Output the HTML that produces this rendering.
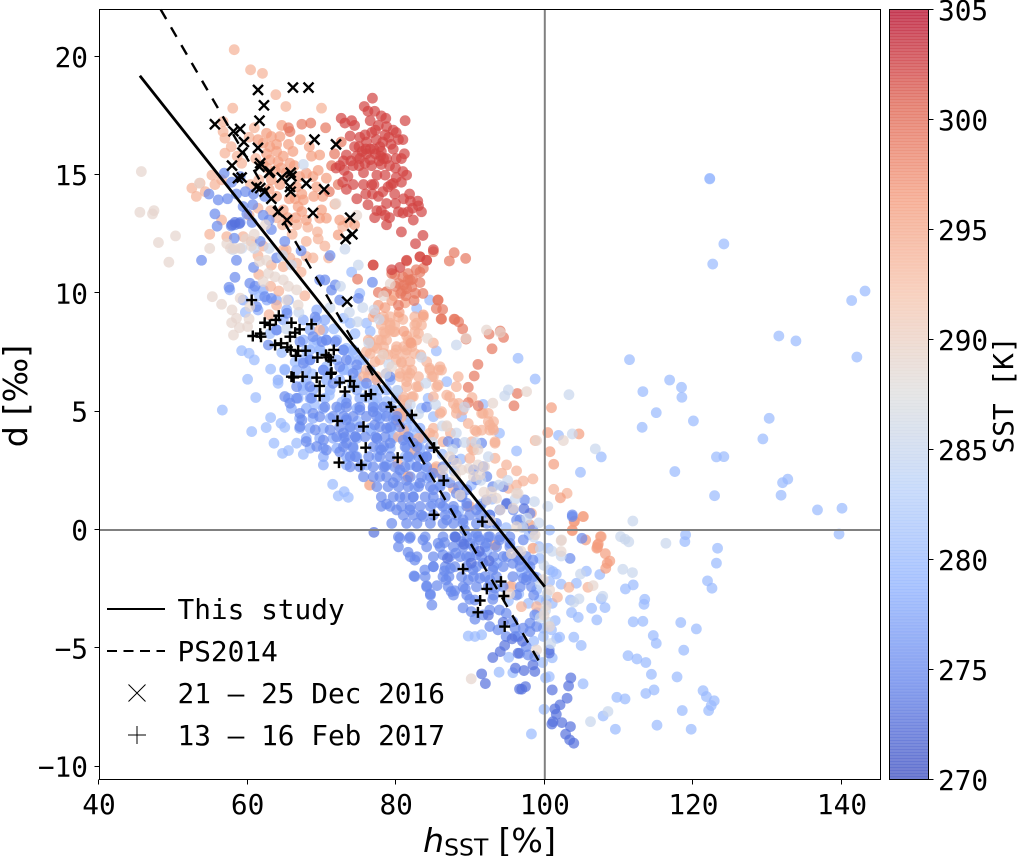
<!DOCTYPE html>
<html>
<head>
<meta charset="utf-8">
<title>SST scatter</title>
<style>
html,body{margin:0;padding:0;background:#fff;}
svg{display:block;}
text{font-family:"DejaVu Sans Mono","Liberation Mono",monospace;fill:#000;}
</style>
</head>
<body>
<svg id="chart" width="1018" height="856" viewBox="0 0 1018 856" xmlns="http://www.w3.org/2000/svg"></svg>
<script>
/* chart values: flat h,d pairs per SST class */
const xTickLabels = [40, 60, 80, 100, 120, 140];
const yTickLabels = [-10, -5, 0, 5, 10, 15, 20];
const cbarTickLabels = [270, 275, 280, 285, 290, 295, 300, 305];
const thisStudyH = [45.5, 100];
const thisStudyD = [19.2, -2.4];
const ps2014H = [48.3, 99.5];
const ps2014D = [22, -5.7];

const sst280 = [122.2,14.86,122.2,14.84,124.1,12.09,122.6,11.24,141.3,9.7,143.1,10.1,131.5,8.2,133.8,7.99,142,7.31,111.4,7.2,116.8,6.34,113.2,5.85,118.4,6.03,118.45,5.61,115,4.96,120,4.61,113.1,4.34,130.2,4.72,129.35,3.85,123.1,3.09,124.1,3.1,117.5,2.47,132.7,2.15,132,2,122.85,1.45,131.8,1.47,136.7,.85,140,.92,139.6,-.17,118.95,-.2,118.85,-.49,123.25,-.77,123.1,-1.4,121.9,-2.15,122.5,-2.46,111.9,-2.32,110.85,-2.49,107.4,-1.88,105.6,-1.74,104.25,-2.25,102.2,-2.29,107.6,-2.91,113.45,-2.93,113.35,-3.14,108.1,-3.28,106.3,-3.31,103.6,-3.49,104.5,-3.69,107,-3.8,111.9,-3.88,113.2,-3.86,118.3,-3.91,120.4,-4.18,114.6,-4.46,115,-4.79,103.9,-4.53,104.9,-4.88,118.7,-5.08,111.2,-5.31,112.4,-5.45,113.6,-5.6,114.35,-6.1,117.8,-6.21,105.15,-6.5,114.7,-6.76,113.6,-6.91,109.7,-7.07,110.8,-7.14,121.3,-6.79,121.75,-7.04,122.8,-7.22,122.4,-7.42,122.05,-7.63,118.5,-7.63,107.85,-7.86,109.5,-8.42,115.1,-8.25,119.7,-8.42,99.9,-7.58,98.2,-8.62,100.1,-6.25,93.85,-6.01,95.7,-6.03,104.8,2.44,107.6,3.09,101.85,4,89.7,-4.48,90.6,-4.5,91.5,-4.43,95.15,-5.38,101.1,-1.76,101.55,-1.86,100.65,-1.69,100.65,-2.18,100.2,-2.96,101,-3.1,99.3,-2.96,98.9,-2.53,99.3,-1.2,101.4,-3.83,99.8,-4.15,100.9,-4.22,102,-4.53,101.6,-4.58,99.8,-4.5,100.45,-.77,100.65,0,103.45,-2.96,96.4,7.26,98.7,6.38,91.7,5.31,88.8,4.79,93.9,4.09,96.2,3.34,85.4,7.57,84.5,9.72,82.75,9.37,86.8,6.27,84.3,5.57,83.4,5.15,85,4.79,56.6,5.07,60.55,4.16,60,6.37,61.1,5.6,59.2,7.58,60.2,7.47,60.9,7.19,63.1,6.8,64.1,6.2,65,6.8,62.5,4.33,63.1,4.75,64.5,4.51,65,4.34,63.55,3.67,64.7,3.24,65.5,3.36,67.5,3.2,66.6,3.67,71.45,1.93,72.2,1.44,73,1.62,73.55,1.38,73.8,8.74,74.45,8.3,75.1,10,74,10.9,72.9,8.95,75.6,7.19,74.2,7.47,73.3,7.68,73.55,6.76,75.6,6.13,77.8,5.92,76.9,5.43,78.7,5.43,80.5,5.07,81.4,4.72,82.3,4.37,78.5,4.93,79.6,3.95,82.75,4.09,76,8.74,76.5,8.4,80.2,5.9,69,5.3,71,5.7,72.7,5.4,74.8,4.6,67.4,6.1,68.7,6.6,69.8,7.6,71.6,8.5,70.6,6.9,72.9,6.8,76.6,4.2,77.9,4.8,79.9,4.6,83.2,3.4,83.9,2.6,86.2,3.2,87.8,2.5,88.7,3,90.1,1.9,91.5,1.1,93.2,.2,94.8,.1,96.4,-.9,97.9,-.2,99.2,-.7,98.9,-2,97.8,-3.1,96.5,-2.7,95.1,-3,93.6,-1.4,92.2,-.9,90.3,-.3,88.4,.8,85.9,1.9,84.2,2.2,81.2,3.1,59.7,9.2,61.6,9.9,63,8.3,64.6,7.5,66.4,7.1,67.9,7.6,68.9,7.9,79.3,4.3,80.8,3.9,82.1,3.2,77.4,5.2,75.9,5.6,74.1,6.1,80.9,2.4,82.5,1.8,84.9,1.1,86.7,.9,88.9,1.4,92.9,1.3,96.9,-1.8,97.7,-1.6,99,-3.5,98.5,-4.7,99.7,-5.6,100.6,-6.2,101,-5.4];

const sst278 = [57.6,10.15,60.8,10.15,62.1,10.15,59.4,9.72,62.6,9.72,63.9,9.72,65.5,9.72,61.4,9.3,65.25,9.3,69.3,9.3,64.8,8.88,67.5,8.88,69.3,8.88,70.4,8.88,63.9,8.46,68.4,8.46,70.2,8.46,67.5,8.03,69.3,8.03,70.6,8.03,72,8.03,68.4,7.61,69.7,7.61,72.9,7.61,74.2,7.61,67.5,7.19,68.4,7.19,72,7.19,73.8,7.19,75.1,7.19,65,6.76,66.6,6.76,67.9,6.76,70.2,6.76,72.9,6.76,74.7,6.76,76.5,6.76,64.1,6.34,67.9,6.34,70.6,6.34,72.4,6.34,74.7,6.34,77.4,6.34,79.2,6.34,67.5,5.92,68.8,5.92,71.1,5.92,74.7,5.92,76.9,5.92,78.7,5.92,65.5,5.57,66.8,5.57,68.4,5.57,70.4,5.57,73.3,5.57,75.1,5.57,77.4,5.57,80,5.57,65.9,5.14,67.9,5.14,70.2,5.14,72.4,5.14,74.7,5.14,76.9,5.14,79.4,5.14,81.4,5.14,67,4.72,68.8,4.72,71.1,4.72,73.3,4.72,77.8,4.72,79.6,4.72,81.85,4.72,67,4.3,68.4,4.3,70.2,4.3,73.8,4.3,76.5,4.3,79.2,4.3,81.4,4.3,83.2,4.3,67.9,3.88,69.7,3.88,71.5,3.88,72.9,3.88,74.7,3.88,77.4,3.88,79.6,3.88,81.85,3.88,83.6,3.88,68.4,3.46,70.2,3.46,72,3.46,74.2,3.46,77.8,3.46,79.2,3.46,81.4,3.46,83.2,3.46,70.2,3.1,73.3,3.1,74.7,3.1,77.4,3.1,81.85,3.1,83.6,3.1,70.2,2.75,73.3,2.75,76,2.75,78.7,2.75,81.85,2.75];

const sst275 = [54.8,14.2,56.05,13.95,57.3,14,58.5,14.2,59.7,14.3,60.8,14.2,62.3,14.1,60.7,13.75,59.4,13.67,55.6,13.36,59.9,13.36,62.1,13.3,62.9,13.1,55.9,12.84,57.8,12.85,58.3,12.9,59,13,60.6,13,63.2,12.7,58.2,12.33,61.7,12.2,65,12.2,67.2,11.8,71.1,11.6,53.8,11.4,58.5,11.4,63.9,11.5,60.8,11.1,56.85,15.08,57.85,14.7,59,14.94,57.5,10.26,58.3,10.68,60.3,10.43,61,10.3,62.3,9.86,63.2,9.79,61.2,9.44,69.1,9,65.3,9.16,63.9,8.45,62.8,7.82,69.7,10.57,70.4,10.57,71.8,10.36,71.3,10.14,76.8,10.47,72.4,9.72,74.9,9.79,70.6,8.03,71.8,7.96,70,7.96,72.9,7.61,74.7,6.98,73.3,7.19,68.8,8.17,67.05,7.96,68.4,7.19,67.5,7.05,70.2,6.76,72.4,6.9,74.2,6.62,76,6.2,71.5,6.2,68.4,6.06,66.6,6.06,65,5.64,66.6,5.57,65.7,5.36,68.6,5.57,70.4,5.2,73.3,5.36,76.9,5,75.1,5.07,68.8,4.93,67.05,4.93,67.3,4.65,69.7,4.79,73.3,4.65,77.1,4.44,78.7,4.3,80,4.65,67.05,4.37,69.1,4.23,71.1,4.23,70.2,3.8,72.9,4.1,74.5,3.95,67.9,3.74,69.3,3.53,70.6,3.38,73.3,3.67,74.5,3.1,72.4,3.3,77.4,3.87,78,3.38,79.2,3.67,80.95,3.8,78.5,2.68,80.5,2.54,77.8,2.26,79.6,2,81.4,2.1,82.75,2.68,82.3,3.67,84.1,3.1,83.2,1.98,85,1.7,82.3,1.4,80.5,1.4,78.7,1.1,80.05,.85,81.85,.85,83.65,.57,85.9,1.13,87.7,.85,86.8,.43,89.5,1.13,89,.43,90.8,.85,92.6,.64,85,2.4,88.1,1.55,87.2,2,89.5,1.7,80.5,-.35,81.8,-.35,81.6,-.94,82.5,-1.27,83.85,-1.69,82.4,-1.94,84.1,-2.36,85.5,-2.35,84.6,-2.7,84.8,-3.17,87.4,-2.6,87.9,-2.57,89.3,-2.49,86.7,-2.11,87.1,-1.97,86.5,-1.73,87.3,-1.62,85,-1.55,83.6,-.42,85.65,-.56,86.5,-.53,86.3,-1.05,88,-.98,88.8,-.49,89.9,-.56,91.25,-.42,92.15,-.56,87.9,-.28,89.2,0,90.8,-.14,92.6,-.28,89.45,-1.12,90.8,-1.05,91.7,-1.41,90.35,-1.69,93,-1.69,91.25,-2.04,89.7,-2.11,92.6,-2.11,93.3,-2.46,89.9,-2.93,90.6,-2.96,93,-2.93,89,-3.29,90.1,-3.45,90.6,-3.77,91.7,-3.59,92.6,-3.38,93.9,-3.38,94.8,-3.52,92.6,-4.08,93.7,-4.22,95.7,-3.87,96,-4.15,94.8,-4.5,96,-4.5,96.4,-4.5,97.1,-4.15,98,-3.94,98,-4.29,98.9,-4.08,97.5,-4.93,96.6,-5.21,97.75,-5.28,98.65,-5.35,100.6,-5.07,98.65,-3.59,97.5,-2.11,97.1,-2.04,95.7,-1.97,94.4,-1.12,95.7,-1.41,96.6,-1.27,97.5,-1.12,98.4,-1.27,93.9,-.42,95.3,-.56,97.1,-.42,98.4,0,97.1,.14,96.2,.42,103.4,-1.2,103.7,.64,103.7,.57,105,-.35,88.1,3.67,87,3.74,84.1,5.2,90.4,2.54,91.7,2.68,92.2,2.26,90.8,2.12,93,1.83,94.4,1.83,97.3,1.27,94.85,1.13,95.75,.85,98,.7,93.95,.85,92.15,1.27,96.65,.43,87.7,2.96,91.5,3.67,79.15,6.48,
72,5.2,73.3,5.2,75.1,5.2,76.9,5.2,78.3,5.2,71.5,4.8,72.9,4.8,74.2,4.8,76,4.8,77.4,4.8,78.7,4.8,80.1,4.8,72.4,4.36,73.8,4.36,75.1,4.36,77.8,4.36,79.2,4.36,80.5,4.36,72,3.94,73.1,3.94,74.5,3.94,75.8,3.94,77.2,3.94,78.5,3.94,81.6,3.94,72.9,3.52,74.2,3.52,76.9,3.52,78.3,3.52,81.2,3.52,82.8,3.52,84.6,3.52,73.8,3.1,76.3,3.1,77.8,3.1,79.2,3.1,81.6,3.1,83,3.1,84.1,3.1,73.8,2.67,75.1,2.67,76.9,2.67,78.3,2.67,79.8,2.67,81.2,2.67,82.8,2.67,84.1,2.67,86.3,2.67,75.6,2.25,76.9,2.25,78.7,2.25,80.1,2.25,81.9,2.25,83.4,2.25,84.6,2.25,86.3,2.25,77.4,1.83,78.9,1.83,80.3,1.83,81.6,1.83,83,1.83,84.6,1.83,85.9,1.83,88.4,1.83,78,1.4,79.6,1.4,81.2,1.4,82.3,1.4,83.9,1.4,85,1.4,86.6,1.4,88.8,1.4,78,1,79.2,1,80.7,1,81.9,1,83.2,1,84.6,1,86.3,1,87.7,1,89.5,1,91.3,1,80.95,.63,82.3,.63,83.4,.63,85,.63,86.6,.63,88.1,.63,89.9,.63,91.3,.63,92.6,.63,79.4,.28,81.4,.28,82.8,.28,84.6,.28,86.3,.28,87.7,.28,89,.28,90.8,.28,92.2,.28,93.5,.28,80.3,-.29,81.9,-.29,83.9,-.29,86.3,-.29,87.9,-.29,89.5,-.29,91,-.29,92.4,-.29,94,-.29,95.3,-.29,80.3,-.71,84.1,-.71,85.9,-.71,87.7,-.71,89,-.71,90.4,-.71,92,-.71,93.5,-.71,95.3,-.71,81.9,-1.13,82.8,-1.13,85,-1.13,87.2,-1.13,88.6,-1.13,89.9,-1.13,91.5,-1.13,93.1,-1.13,94.9,-1.13,96.2,-1.13,85,-1.55,86.6,-1.55,87.9,-1.55,89.5,-1.55,90.8,-1.55,93.1,-1.55,94.4,-1.55,96.7,-1.55,98,-1.55,82.5,-1.97,83.9,-1.97,86.3,-1.97,88.8,-1.97,90.4,-1.97,91.95,-1.97,93.5,-1.97,97.6,-1.97,98.5,-1.97,84.1,-2.4,87,-2.4,89,-2.4,90.8,-2.4,92.4,-2.4,94.4,-2.4,96.7,-2.4,98.2,-2.4,84.6,-2.75,87.7,-2.75,89.5,-2.75,93.1,-2.75,96.2,-2.75,98.5,-2.75];

const sst273 = [103.5,-6.25,103.2,-6.59,101,-6.76,103,-7.11,102.05,-7.39,101.35,-7.56,101.55,-7.79,101.1,-8.1,100.95,-8.2,102.3,-8.14,103.45,-8.31,102.8,-8.63,103.35,-8.87,103.9,-9.01,96.9,-6.73,97.4,-6.62,96.6,-6.72,92,-6.49,91.5,-6.08,97.2,-5.94,93,-5.39,94,-5.14,94.6,-4.88,96.4,-5.21,96.05,-5.84,98.65,-5.98,98.4,-5.7,100.6,-5.2,89.1,-.6,90.1,-1.4,91.2,-.9,92.5,-1.3,88,-.3,86.9,-1.2,95.6,-4.6,97,-4.7,94.4,-3.9,92.4,-3.6,58.3,13,58.9,12.95,57.9,12.9,77,-.1,94.9,1.1,97.2,.9];

const sst285 = [116.3,-.56,110.2,-.28,110.8,-.39,111.3,-.5,111.85,.38,106.8,3.43,103.25,5.72,103.7,4.06,111.8,-1.8,110.5,-1.66,104.8,-1.86,107.8,-2.8,104.6,-2.91,103.9,-3.05,108.5,-7.67,106.15,-8.1,94.6,5.67,95.1,5.92,88.1,7.82,67.5,15.45,73.1,11.87,74.9,11.2,62.9,11.9,64.7,11.6,65.9,11.2,60.9,11.9,59.2,11.9,58,11.85,102.2,-1.1,101,-.9,99.9,-1.5,99.4,-2.3,100.5,-3.9,100.8,-4.8,99.4,-3.7,98.5,-.3,97.6,.5,96,1.3,95,2.1,93.8,1.9,92.4,3.1,91.4,2.1,89.2,3.7,79,7,76.3,7.9,78.6,6.6,80.1,5.9,81.9,5.3,83,4.9,84.9,3.7,86.2,4.4,88.1,4.1,89.2,5.2,77,9.3,74.8,8.8,77.7,8.9,72.5,10.3,71.1,9.4,66.9,9.2,65.2,8.5,75.5,9.4,73.7,9.2,83.4,7.3,84,6.2,85.3,5.3,87.6,3.4,90.7,3.7,97,.1,98.6,1.2,99.2,.3,100.4,1,99.4,-.8,100.3,-2.7,100.1,-3.4];

const sst289 = [45.7,15.15,45.5,13.43,47.2,13.36,47.4,13.5,48,12.15,50.3,12.43,49.4,11.32,53.5,14.66,57.2,12.1,59,11.9,60.5,12,61.6,11.35,62.55,11.4,55.25,9.86,56.5,9.54,57.9,9.3,58.5,8.95,57.85,8.76,60.2,8.92,58.9,8.55,60,8.6,58.1,8.24,59,9.8,60.3,9.44,62.1,10.5,63.7,10.7,62.8,10.85,64.8,10.57,65.5,10.3,65.25,9.72,66.8,9.51,66.6,10.15,102.5,3.78,90.1,-6.29,102.2,-.45,102.2,-.91,106.5,-2.35,100.65,-2.53,100.65,-4.08,98.9,-5.07,93,5.36,97.55,5.85,92.15,8.45,94,8.35,86.8,4.41,96.2,1.55,88,2.3,91,3.4,91.8,1.6,95.5,-1,96.8,-.9,99.8,-2.1,100.2,-3.2,99.9,-3.6,95.3,-2.7,92.7,.4,89.8,2.6,89.4,8.1,84.2,8.1,79.2,10.4,78.3,9.9,62.4,12.9,71.9,13.8,74.7,13.3,57.7,11.9,54.9,11.9,87.2,3.1,88.1,2.82,88.8,2.54,90.4,2.26,91.3,2.33,91.9,2.68,92.8,1.62,92.2,1.27,93.5,1.34,95.75,.92,96.4,1.55,94,.85,86.8,4.37,86.3,2.54,88.6,1.48,91,2.75,98.7,-.2,102.25,-.42,96.2,.14,98.9,3.78,60.9,12.5,59.8,12.3,58.3,11.9,79.4,6.9,78.2,7.4];

const sst294 = [58.2,20.3,60.4,19.45,62,19.3,63.8,18.4,65.15,17.9,58,17.83,69.95,17.83,56.7,17.26,56.7,16.84,56.95,16.56,56.95,15.93,59.2,15.5,52.5,14.45,53.1,14.1,53.6,14.66,55.6,14.6,56.5,14.8,56.5,13.1,54.9,12.5,57.2,12.4,59.4,12.4,60.5,12.2,62.1,12,65.2,11.84,67.9,12.2,69.5,12.3,70.4,12,67.9,11.56,64.8,11.84,66.6,11.28,68.8,11.5,64.8,11.13,71.75,13.77,72.8,12.83,73.5,13,63.9,9.5,62.9,9.1,67.2,10.9,69.7,8.45,79.15,8.74,78.3,8.88,79.15,8.45,78.5,8.31,79.8,8.38,76.5,7.96,78,8.03,81.85,7.96,83,8.31,82.75,8.74,81.4,7.61,80,7.61,76,7.54,77.4,7.68,77.8,7.19,80.7,7.05,78.7,6.62,80.5,6.62,81.85,6.62,81.4,6.27,84.5,6.84,85.9,6.9,84.8,6.48,85.65,6.13,88.35,6.48,83,6.06,82.3,5.64,80.95,5.5,76.25,6.48,77.4,6.34,86.1,5,88.1,5.15,89,5.07,91.5,4.93,92.6,4.44,90.8,4.16,93,4.3,90.15,3.46,89.9,3.03,93.3,3.67,93.3,3.03,94.2,2.4,96.2,2.5,94.85,2.75,98.7,3.78,85,4.3,84.5,4.09,85.4,2.68,85,2.54,85.9,2.4,95.1,1.76,96.2,1.9,97.1,2.07,98.4,2.16,81.6,2.26,76.5,1.9,80.2,2.8,101.2,1.72,103,1.55,105.2,.57,107.6,-.28,89.7,.99,98,.21,93.3,-.63,98.4,-.77,95.5,-2.36,96.85,-3.24,98.9,-3.24,101.7,-2.84,103.25,-2.42,105.8,-2.42,98.2,.71,80.9,8.9,81.4,8.2,83.3,7.4,85,7.9,78.9,7.4,80,7.2,86.8,5.7,90.2,5.6,89.7,4.5,87.3,4.1,
76.9,9.01,78.3,9.01,79.2,9.01,80.3,9.01,82.5,9.01,83.65,9.01,78,8.66,79.2,8.66,79.8,8.66,82.5,8.66,83.4,8.66,78.3,8.38,79.6,8.38,82.5,8.38,76.25,8.03,77.6,8.03,78.7,8.03,81.6,8.03,82.75,8.03,76.9,7.75,78.3,7.75,80.05,7.75,81,7.75,82.1,7.75,76.5,7.46,78.3,7.46,79.8,7.46,81.2,7.46,82.5,7.46,77.15,7.11,80.7,7.11,81.85,7.11,84.1,7.11,76,6.76,81.4,6.76,82.1,6.76,84.55,6.76,85.7,6.76,86.1,6.76,75.6,6.48,77.4,6.48,80.5,6.48,81.6,6.48,83,6.48,85,6.48,81.4,6.06,82.75,6.06,85.45,6.06,88.1,6.06,81,5.63,82.1,5.63,85,5.63,87.2,5.63,81.4,5.35,87.7,5.35,88.4,5.35,80.5,4.93,85.9,4.93,88.1,4.93,91.7,4.93,92.4,4.93,80.3,4.58,92.4,4.58,93.1,4.58,81,4.22,90.6,4.22,91.5,4.22,92.6,4.22,93.1,4.22,86.3,3.73,90.15,3.73,93.3,3.73,90.4,3.38,80.3,3.94,83,3.87,82.5,3.38,81.6,2.25,76.4,1.9,85.2,2.6,87.7,1.76,89.9,1,80.3,4.93,80.7,4.79,93.3,-.64,98.45,-.78,95.3,-2.4,98,.21,85,4,
54.3,14.3,55.2,15,57.8,16.2,58.6,15.8,60.2,16.6,60.9,17,61.1,15.7,60.4,14.6,61.5,14.8,62.6,15.3,60.2,13.3,61.4,13.6,63.1,13.5,63.9,13.2,64.7,12.9,65.4,13,66,12.5,66.6,12.9,68.1,12.8,69.4,12.6,70.9,11.5,65.7,11.5,63.2,11.2,61.4,11.6,63.1,10.3,61.5,10.8,64.2,10.1,67.7,9.9];

const sst296 = [100.9,5.17,100.4,4.12,104.6,4.06,100.7,3.31,101.2,2.78,102.1,1.36,104,.38,103.7,0,105.5,-.42,107.2,-.59,107.1,-.73,105.15,.57,103.95,.35,103.7,-.03,107.5,-.28,107.1,-.63,107,-.77,108.15,-1,108.75,-1.31,108.4,-1.41,108.2,-1.62,64.6,17.1,62.55,16.77,63.2,16.63,64.35,16.63,61.4,16.5,62.1,16.35,63,16.2,63.9,16.3,65.5,16.3,67.1,16.5,68.3,16.2,68.6,15.8,69.7,15.85,62.55,15.9,63.9,16,64.8,15.8,63,15.64,62.1,15.43,64.1,15.57,65.7,15.5,63.7,15.2,68.8,14.94,69.5,15.2,70.6,14.87,67,14.94,67.9,15.08,63.2,14.8,64.35,14.6,66.6,14.5,69.3,14.5,67.3,14.2,66.4,14,67.5,13.95,63.9,14.1,64.8,13.53,66.8,13.67,67.3,13.46,67.9,13.1,69.7,13.18,70.6,13.18,69.95,13.53,72.4,13.1,72.2,12.47,74.4,12.9,77.15,9.16,78.7,10.07,79.4,9.7,83.65,9.09,81,8.4,82,7.9,65.2,15.1,66.3,15.4,64.5,15.3,66.1,16,62.9,14.4,65.6,14,68.9,14.1,70.1,14.1,65.4,13.2,66.5,13.2,79.7,9.9,80.8,10.1,77.6,9.5,78.5,9.4,81.2,9.6,80.4,9.2];

const sst299 = [65.5,17,65.7,16.84,67.3,17.15,68.5,17.2,70.5,17,81.6,10.57,85.65,9.72,86.1,8.92,87.9,8.9,71.3,15.4,71.7,15.9,72.2,14.6,71,14.3,72.6,16.4,81.3,9.9,82.4,9.7,80.3,9.5,76.9,11.2,79.4,10.84,81.4,11.37,83.2,11.55,84.1,11.4,83.2,10.9,81.6,10.84,81.9,10.56,81,10.35,83.2,10.46,83.65,11.06,82.1,10.28,83.6,10,78.7,10.07,77.6,10.04,80.3,10.42,85,11.76,87.8,11.72,87.15,11.37,89.35,11.48,74.8,10.6,85.6,9.72,85.4,9.36,86.25,9.32,86.05,8.91,87.8,8.91,88.4,8.8,88.95,8.5,89.4,8.07,92.5,8.28,94,8.41,94.45,8.14,92.9,7.66,91,7,90.5,6.51,89.7,6.03,89.7,5.38,91.05,5.25,95.85,5.25,96.3,5.77,79.8,10.8,80.9,10.7,82.2,10.6,82.7,11,79.9,10.3,80.6,10,81.4,10.2,82.6,10];

const sst302 = [76.8,18.25,76.2,17.7,77.1,17.7,78.6,17.4,81.2,17.3,72.6,17.4,74,17.3,74.4,17.1,73.1,17.2,77.6,17.1,78.7,17.05,80,16.8,80.3,16.5,79.6,16.9,75.1,16.6,73.8,16.65,76,16.4,76.7,16.8,78.2,16.4,77.8,16.2,78,16,79.6,16.1,80.7,15.7,80,15.7,78.7,15.7,76,15.9,74.7,15.8,73.3,15.85,72.4,15.4,74.2,15.4,76.5,15.65,78,15.45,80.9,15.15,81.4,15,80.7,14.7,78.5,15,77.4,15,75.6,15.1,73.5,14.95,74.2,14.6,75.6,14.6,76.7,14.6,78.2,14.3,79.6,14.65,81.8,14.2,79.8,14.2,78.7,13.8,77.6,14.1,76.2,13.75,74.7,14,77.4,13.5,78,13.5,80.3,13.45,81.6,13.45,83,13.7,83.4,13.45,82.3,13.1,79.1,13.2,77.1,13.2,78.7,12.9,80.7,12.6,83.6,12.45,82.6,12.1,85,11.85,83.2,11.55,84.1,11.4,81.4,11.4,76.9,11.2,79.4,11,80.5,11.1,75.4,16,77,16.1,76.7,15.4,75.1,15.7,79,16.6,77.3,16.5,74.4,16.2,75.9,16.1,77.9,15.8,73,15.2,79.3,14.6,75.9,14.2,80.9,13.4,82.2,13.6,75,16.2,75.8,16.7,77.2,16.9,78.5,16.7,79.3,16.3,76.5,16.1,77.2,15.9,77.7,15.6,78.3,15.7,79.1,15.4,79.9,15.3,75,15.4,75.8,15.5,73.9,15.6,72.9,15.6,71.9,15.3,72.8,14.7,73.3,14.4,77,14.6,78.9,14.5,76.8,14.2,79.9,13.8,78.5,13.3,81,14,81.9,13.9,82.9,13.9,80,14.9,81.1,15.9,80.9,16.5,76.5,17.3,75.7,17.9,78,17.5];

const dec2016H = [55.6,58.1,59,59.5,59.3,61.4,62.2,61.6,66.1,68.2,69,71.9,61.4,57.9,61.7,61.6,63,62.9,65.8,64.6,65.9,58.7,59.2,67.9,70.3,61.2,61.7,62.3,65.7,65.8,63.2,64.1,65.3,68.8,73.8,74.1,73.2,73.4];
const dec2016D = [17.15,16.85,16.95,16.4,15.95,18.6,17.95,17.3,18.7,18.7,16.5,16.3,16.15,15.4,15.5,15.35,15.15,15.1,15.1,14.9,14.95,14.87,14.9,14.65,14.4,14.5,14.45,14.3,14.5,14.3,14,13.45,13.1,13.4,13.2,12.5,12.3,9.65];
const feb2017H = [60.55,64.2,62.3,63,63.8,65.9,68.6,60.7,61.7,61.8,67,66.4,65.7,63.7,64.5,65.35,65.8,66.8,66.5,67.8,71.6,70.55,70.9,69.4,71.2,71.3,71.2,65.9,66.2,67.4,69.3,69.7,69.7,72.4,73.8,74.3,73.1,75.9,76.6,79.3,82.1,72.1,75.6,75.9,72.3,75.3,80.2,85.1,86.4,85.1,91.6,89,94.1,92.2,94.5,91.3,91,94.6];
const feb2017D = [9.72,9.06,8.76,8.67,8.88,8.76,8.7,8.2,8.3,8.17,8.48,8.34,8.17,7.82,7.89,7.72,7.61,7.58,7.36,7.58,7.61,7.4,7.3,7.29,7.16,6.65,6.6,6.48,6.45,6.48,6.44,6.09,5.67,6.23,6.3,6.06,5.85,5.67,5.74,5.2,4.86,4.61,4.37,3.48,2.85,2.75,3.06,3.48,2.09,.64,.35,-1.65,-2.18,-2.49,-2.79,-2.98,-3.48,-4.08];

const seriesTemps = [278, 280, 294, 296, 299, 302, 275, 273, 285, 289];
const seriesPoints = [sst278, sst280, sst294, sst296, sst299, sst302, sst275, sst273, sst285, sst289];

const legendLabels = ["This study", "PS2014", "21 \u2013 25 Dec 2016", "13 \u2013 16 Feb 2017"];

const svgNS = "http://www.w3.org/2000/svg";
const root = document.getElementById("chart");
const plotL = 99.5, plotR = 880.5, plotT = 9.5, plotB = 779.5;
function xScale(h) { return 99 + (h - 40) * 7.43; }
function yScale(d) { return 530 - d * 23.66; }
function cScale(k) { return 780 - (k - 270) * 22; }
function crisp(v) { return Math.round(v) - 0.5; }

const cmapStops = [[58,76,192],[98,130,234],[141,176,254],[184,208,249],[221,221,221],[245,196,173],[244,154,123],[222,96,77],[180,4,38]];
function coolwarm(k) {
  let t = Math.max(0, Math.min(1, (k - 270) / 35)) * 8;
  let i = Math.min(7, Math.floor(t));
  let f = t - i, a = cmapStops[i], b = cmapStops[i + 1];
  return "rgb(" + [0, 1, 2].map(function (c) { return Math.round(a[c] + (b[c] - a[c]) * f); }).join(",") + ")";
}
function make(tag, attrs, parent) {
  const el = document.createElementNS(svgNS, tag);
  for (const key in attrs) el.setAttribute(key, attrs[key]);
  (parent || root).appendChild(el);
  return el;
}
function label(str, x, y, size, anchor, parent) {
  const t = make("text", { x: x, y: y, "font-size": size, "text-anchor": anchor }, parent);
  t.textContent = str;
  return t;
}
function fmt(v) { return v < 0 ? "\u2212" + Math.abs(v) : String(v); }

/* scatter */
const scatter = make("g", {});


seriesPoints.forEach(function (vals, s) {
  const group = make("g", { fill: coolwarm(seriesTemps[s]), "fill-opacity": 0.7 }, scatter);
  
  
  for (let i = 0; i + 1 < vals.length; i += 2) {
    const c = make("circle", { cx: xScale(vals[i]), cy: yScale(vals[i + 1]), r: 5.4 }, group);
    
    
  }
});

/* reference lines */
const vRef = make("line", { x1: xScale(100), x2: xScale(100), y1: plotT, y2: plotB, stroke: "#808080", "stroke-width": 2 });


const hRef = make("line", { x1: plotL, x2: plotR, y1: yScale(0), y2: yScale(0), stroke: "#808080", "stroke-width": 2 });



/* fit lines */
const fitSolid = make("line", { x1: xScale(thisStudyH[0]), y1: yScale(thisStudyD[0]), x2: xScale(thisStudyH[1]), y2: yScale(thisStudyD[1]), stroke: "#000", "stroke-width": 2.8 });


const fitDash = make("line", { x1: xScale(ps2014H[0]), y1: yScale(ps2014D[0]), x2: xScale(ps2014H[1]), y2: yScale(ps2014D[1]), stroke: "#000", "stroke-width": 2.4, "stroke-dasharray": "11 9.6" });



/* markers */
const xGroup = make("g", { stroke: "#000", "stroke-width": 2.4, fill: "none" });


dec2016H.forEach(function (h, i) {
  const x = xScale(h), y = yScale(dec2016D[i]), s = 5;
  const m = make("path", { d: "M" + (x - s) + " " + (y - s) + "L" + (x + s) + " " + (y + s) + "M" + (x - s) + " " + (y + s) + "L" + (x + s) + " " + (y - s) }, xGroup);
  
  
});
const pGroup = make("g", { stroke: "#000", "stroke-width": 2.4, fill: "none" });


feb2017H.forEach(function (h, i) {
  const x = xScale(h), y = yScale(feb2017D[i]), s = 5.5;
  const m = make("path", { d: "M" + (x - s) + " " + y + "L" + (x + s) + " " + y + "M" + x + " " + (y - s) + "L" + x + " " + (y + s) }, pGroup);
  
  
});

/* frame and axes */
const frame = make("rect", { x: plotL, y: plotT, width: plotR - plotL, height: plotB - plotT, fill: "none", stroke: "#000", "stroke-width": 1 });


xTickLabels.forEach(function (v) {
  const x = crisp(xScale(v));
  const tick = make("line", { x1: x, x2: x, y1: plotB, y2: plotB + 5, stroke: "#000", "stroke-width": 1 });
  
  
  const t = label(fmt(v), xScale(v), 814, 27.78, "middle");
  
  
});
yTickLabels.forEach(function (v) {
  const y = crisp(yScale(v));
  const tick = make("line", { x1: plotL - 5, x2: plotL, y1: y, y2: y, stroke: "#000", "stroke-width": 1 });
  
  
  const t = label(fmt(v), 88, yScale(v) + 10, 27.78, "end");
  
  
});

/* axis titles */
const xTitle = make("text", { x: 423, y: 852, "font-size": 33.3, style: "font-family:'DejaVu Sans',sans-serif" });


const tsH = make("tspan", { "font-style": "italic" }, xTitle);
tsH.textContent = "h";
const tsSub = make("tspan", { "font-size": 23.5, dy: 3.5 }, xTitle);
tsSub.textContent = "SST";
const tsUnit = make("tspan", { dy: -3.5, dx: 10 }, xTitle);
tsUnit.textContent = "[%]";
const yTitle = label("d [\u2030]", 0, 0, 33.3, "middle");
yTitle.setAttribute("style", "font-family:'DejaVu Sans',sans-serif");
yTitle.setAttribute("transform", "translate(27,396) rotate(-90)");



/* colorbar */
const cbar = make("g", {});


const cbarSteps = 256;
for (let i = 0; i < cbarSteps; i++) {
  const k0 = 270 + 35 * i / cbarSteps;
  const k1 = 270 + 35 * (i + 1) / cbarSteps;
  const band = make("rect", { x: 889.5, width: 39, y: cScale(k1) - 0.9, height: cScale(k0) - cScale(k1) + 0.4, fill: coolwarm(k0), "fill-opacity": 0.72 }, cbar);
  
  
}
const cbarFrame = make("rect", { x: 889.5, y: plotT, width: 39, height: plotB - plotT, fill: "none", stroke: "#000", "stroke-width": 1 });


cbarTickLabels.forEach(function (v) {
  const y = crisp(cScale(v));
  const tick = make("line", { x1: 928.5, x2: 933.5, y1: y, y2: y, stroke: "#000", "stroke-width": 1 });
  
  
  const t = label(String(v), 938, cScale(v) + 10, 27.78, "start");
  
  
});
const cbarTitle = label("SST [K]", 0, 0, 27.78, "middle");
cbarTitle.setAttribute("transform", "translate(1013,395) rotate(-90)");



/* legend */
const legend = make("g", {});


const rowY = [609, 651, 693, 735];
const k1 = make("line", { x1: 107, x2: 165, y1: rowY[0], y2: rowY[0], stroke: "#000", "stroke-width": 2 }, legend);


const k2 = make("line", { x1: 107, x2: 165, y1: rowY[1], y2: rowY[1], stroke: "#000", "stroke-width": 2, "stroke-dasharray": "10 6.5" }, legend);


const k3 = make("path", { d: "M128.5 684.5L145.5 701.5M128.5 701.5L145.5 684.5", stroke: "#000", "stroke-width": 1, fill: "none" }, legend);


const k4 = make("path", { d: "M128 735H146M137 726V744", stroke: "#000", "stroke-width": 1, fill: "none" }, legend);


legendLabels.forEach(function (str, i) {
  const t = label(str, 177.5, rowY[i] + 10, 27.78, "start", legend);
  
  
});
</script>
</body>
</html>
